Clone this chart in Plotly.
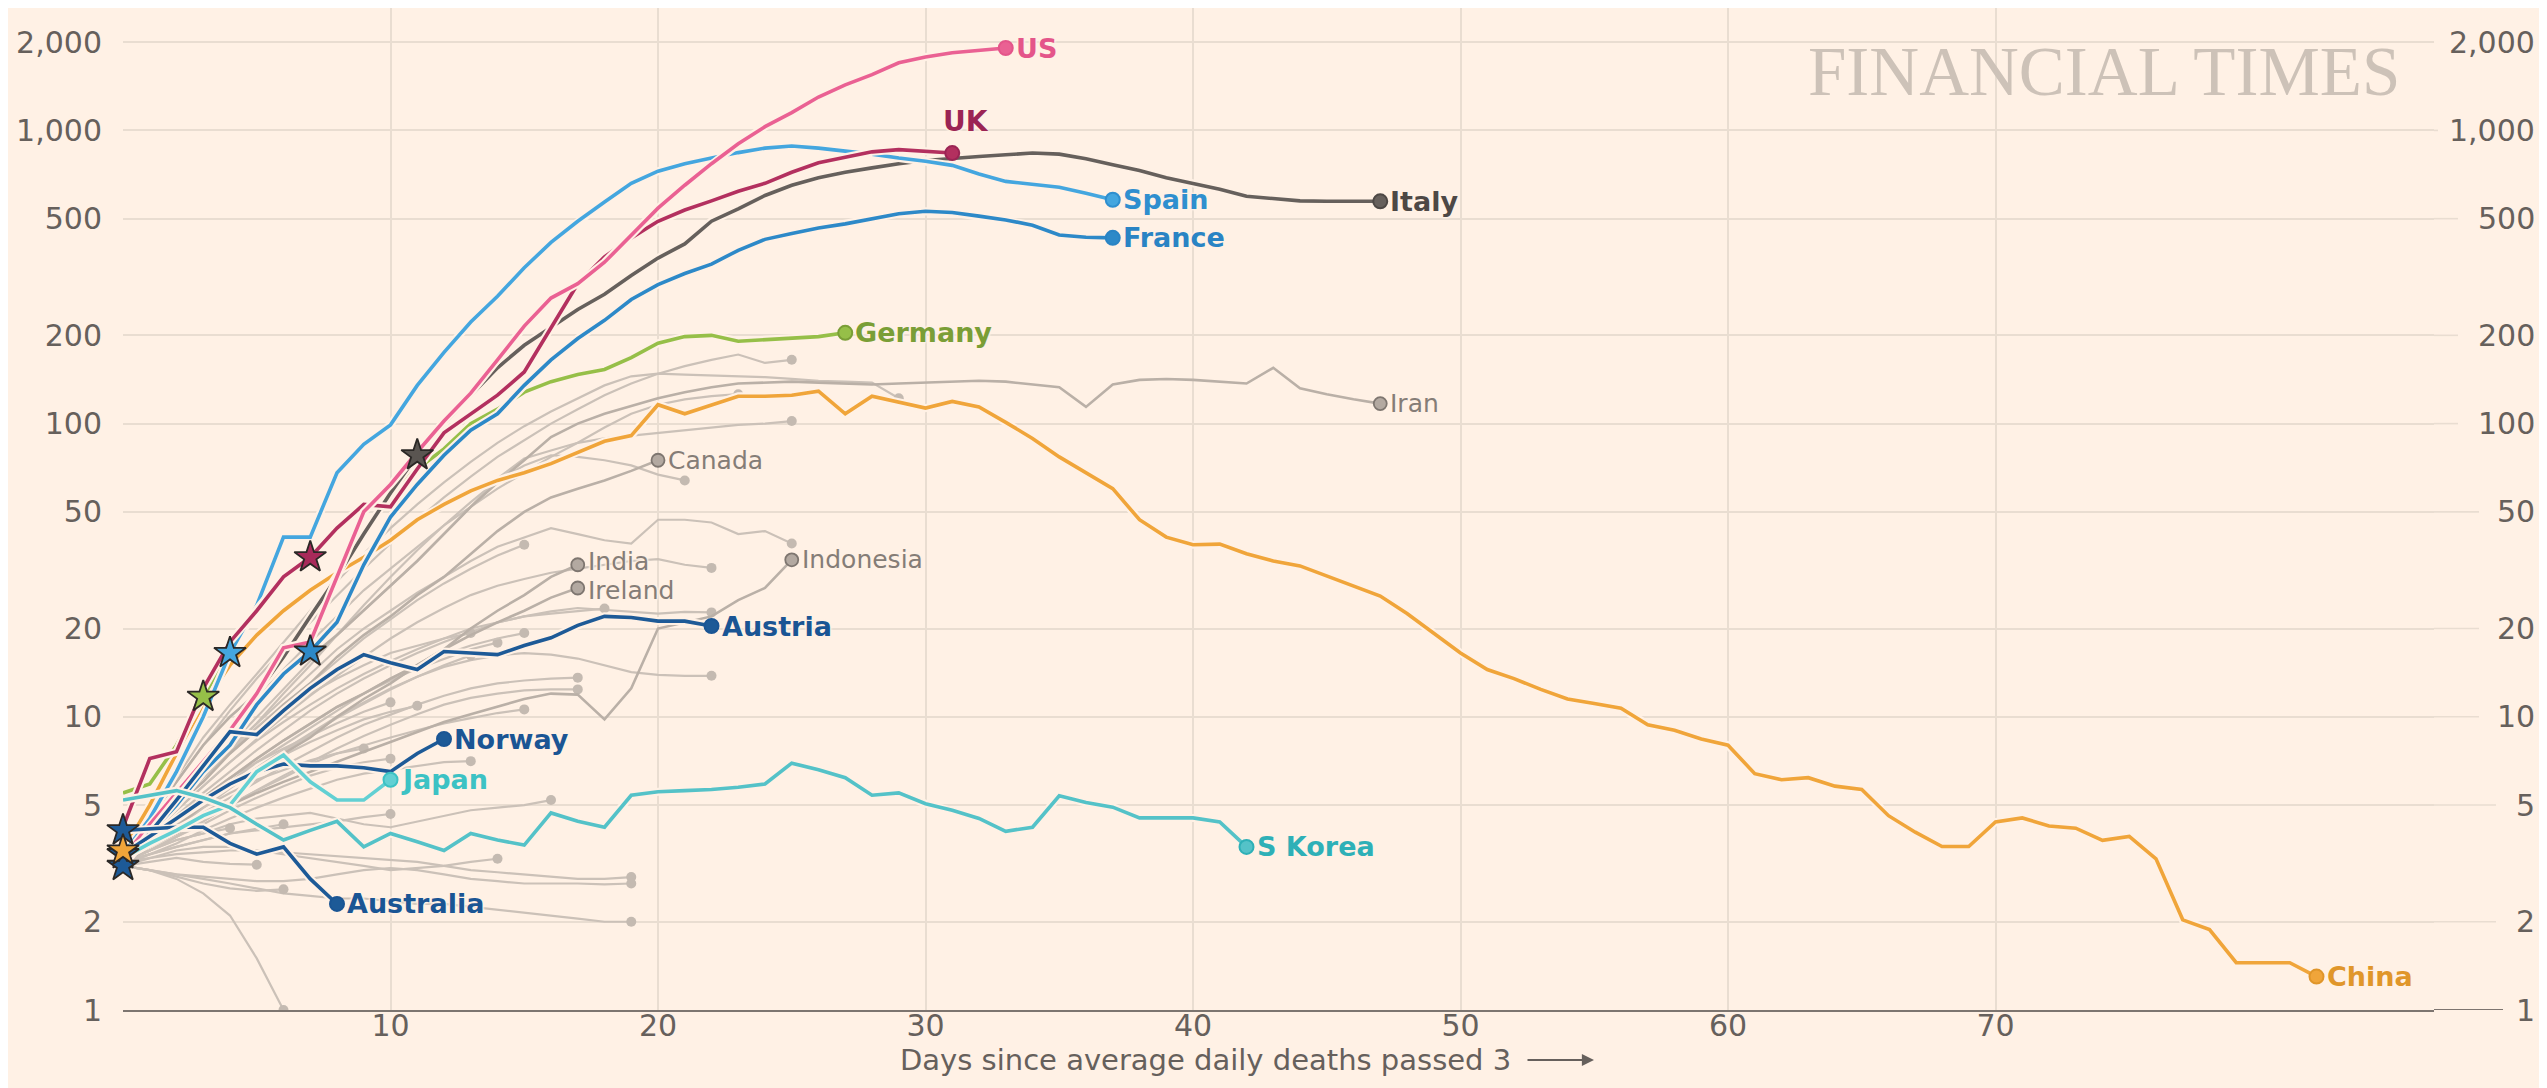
import math
import plotly.graph_objects as go

# ---------------- data (7-day avg daily deaths, index = days since avg passed 3) -------------
china = [3.5, 5.0, 7.5, 11, 15, 19, 23, 27, 31, 35, 40, 47, 53, 59, 64, 68, 73, 80, 87, 91,
         116, 108, 116, 124, 124, 125, 129, 108, 124, 118, 113, 119, 114, 101, 89, 77, 68, 60,
         47, 41, 38.6, 38.8, 36, 34, 32.7, 30.2, 28, 25.8, 22.5, 19.3, 16.5, 14.5, 13.5, 12.4,
         11.5, 11.1, 10.7, 9.4, 9.0, 8.4, 8.0, 6.4, 6.1, 6.2, 5.8, 5.65, 4.6, 4.04, 3.61, 3.61,
         4.38, 4.52, 4.24, 4.17, 3.79, 3.91, 3.28, 2.03, 1.88, 1.45, 1.45, 1.45, 1.30]
italy = [3.3, 4.2, 5.3, 7, 9, 12, 16, 22, 30, 42, 58, 78, 100, 125, 155, 185, 212, 245, 276,
         320, 367, 410, 490, 540, 600, 650, 690, 720, 745, 770, 790, 805, 815, 826, 837, 830,
         800, 764, 730, 690, 660, 630, 596, 585, 575, 573, 573, 573]
spain = [3.4, 4.5, 6.5, 10, 16.5, 24, 41, 41, 68, 85, 99, 135, 175, 222, 272, 340, 415, 490,
         570, 660, 726, 770, 805, 840, 870, 885, 870, 850, 830, 805, 785, 760, 710, 670, 655,
         640, 610, 580]
france = [3.2, 4.0, 5.0, 6.5, 8.0, 11, 14, 16.7, 21, 33, 48, 62, 78, 95, 108, 135, 165, 195,
          225, 265, 298, 325, 350, 390, 425, 445, 465, 480, 500, 520, 530, 525, 510, 495, 475,
          440, 432, 430]
uk = [4.2, 7.2, 7.6, 12.5, 18, 23, 30, 35, 44, 53, 52, 70, 93, 108, 125, 150, 212, 300, 370,
      430, 490, 535, 575, 620, 660, 720, 775, 810, 845, 860, 850, 837]
us = [3.3, 4.3, 5.5, 7, 9, 12, 17.2, 18, 30, 50, 62, 80, 102, 127, 165, 215, 268, 300, 355,
      440, 543, 650, 770, 900, 1030, 1150, 1300, 1430, 1550, 1700, 1780, 1840, 1880, 1910]
germany = [5.5, 5.9, 8, 11.7, 17, 23, 30, 36, 44, 52, 60, 70, 82, 100, 112, 128, 139, 147,
           153, 168, 188, 198, 200, 191, 193, 196, 198, 204]
austria = [3.1, 4.0, 5.2, 6.8, 8.9, 8.7, 10.5, 12.5, 14.5, 16.3, 15.3, 14.5, 16.7, 16.5, 16.3,
           17.5, 18.6, 20.5, 22, 21.8, 21.2, 21.2, 20.4]
norway = [3.4, 3.9, 4.5, 5.2, 5.9, 6.5, 6.9, 6.8, 6.8, 6.7, 6.5, 7.5, 8.4]
japan = [3.3, 3.7, 4.1, 4.6, 5.0, 6.5, 7.4, 6.0, 5.2, 5.2, 6.1]
australia = [4.1, 4.15, 4.2, 4.2, 3.7, 3.4, 3.6, 2.8, 2.3]
skorea = [5.2, 5.4, 5.6, 5.3, 4.9, 4.3, 3.8, 4.1, 4.4, 3.6, 4.0, 3.75, 3.5, 4.0, 3.8, 3.65,
          4.7, 4.4, 4.2, 5.4, 5.55, 5.6, 5.65, 5.75, 5.9, 6.95, 6.6, 6.2, 5.4, 5.5, 5.05, 4.8,
          4.5, 4.07, 4.2, 5.38, 5.1, 4.92, 4.52, 4.52, 4.52, 4.38, 3.6]
iran = [3.5, 4.5, 6, 8, 10, 12, 14, 16, 19, 23, 28, 34, 42, 52, 63, 75, 90, 100, 108, 115,
        122, 128, 133, 137, 138, 139, 138, 137, 136, 137, 138, 139, 140, 139, 136, 133, 114,
        136, 141, 142, 141, 139, 137, 155, 132, 126, 121, 117]
canada = [3.3, 4.0, 5.0, 6.0, 7.5, 9, 11, 13, 16, 19, 22, 26, 30, 36, 43, 50, 56, 60, 64, 69, 75]
india = [3.2, 3.6, 4.2, 5.0, 5.8, 6.6, 7.5, 8.5, 10, 11.5, 13, 15, 17, 20, 23, 26, 30, 33]
ireland = [3.2, 3.8, 4.5, 5.3, 6.2, 7.2, 8.3, 9.5, 10.8, 12, 13.5, 15, 17, 19, 21, 23, 25.5, 27.5]
indonesia = [3.2, 3.6, 4.0, 4.5, 5.0, 5.5, 6.0, 6.5, 7.0, 7.6, 8.2, 8.9, 9.6, 10.2, 10.8,
             11.5, 12.0, 11.9, 9.8, 12.5, 20, 21, 22, 25, 27.5, 34.3]

# unlabelled grey countries
grey_a = [3.3, 4.5, 6, 8, 10.5, 13.5, 17, 21, 26, 32, 39, 47, 56, 66, 77, 88, 100, 112, 125,
          137, 148, 157, 165, 172, 161, 165]
grey_b = [3.3, 4.5, 6.2, 8.5, 11, 14, 18, 23, 29, 36, 44, 53, 63, 74, 86, 98, 110, 122, 135,
          145, 148, 147, 146, 145, 144, 142, 140, 139, 138, 122]
grey_c = [3.2, 4.2, 5.5, 7, 9, 11.5, 14.5, 18, 22, 27, 32, 38, 45, 52, 60, 68, 77, 86, 97,
          108, 116, 121, 124, 126]
grey_d = [3.2, 4.0, 5.0, 6.3, 8, 10, 12.5, 15.5, 19, 23, 28, 34, 42, 52, 65, 76, 81, 86, 89,
          91, 93, 95, 97, 99, 100, 102]
grey_e = [3.2, 4.0, 5.0, 6.2, 7.7, 9.5, 12, 15, 19, 24, 30, 37, 45, 54, 64, 72, 78, 77, 75,
          72, 67, 64]
grey_f = [3.2, 4.0, 5.0, 6.2, 7.6, 9.2, 11, 13, 15.5, 18.5, 21.5, 25, 28.5, 32, 35.5, 38.6]
grey_g = [3.3, 4.0, 4.8, 5.8, 7, 8.4, 10, 11.8, 13.8, 16, 18.5, 21, 23.5, 26, 28, 29.5, 31,
          32, 33, 34, 34.5, 33, 32.2]
grey_h = [3.3, 4.0, 5.0, 6.3, 7.8, 9.5, 11.5, 14, 17, 20, 23, 26.5, 30, 34, 38, 41, 44, 42,
          40, 39, 47, 47, 46, 42, 43, 39]
grey_i = [3.2, 3.8, 4.6, 5.5, 6.5, 7.7, 9, 10.5, 12, 13.5, 15, 16.5, 18, 19.5, 21, 22, 22.9,
          23.5, 23.2, 22.8, 22.5, 22.8, 22.7]
grey_j = [3.2, 3.9, 4.8, 5.8, 7, 8.3, 9.6, 11, 12.5, 14, 15.5, 17, 18.5, 20, 21, 22, 22.5,
          23, 23.4]
grey_k = [3.2, 3.7, 4.3, 5.0, 5.8, 6.7, 7.7, 8.8, 10, 11.2, 12.5, 13.7, 14.8, 15.6, 16.2,
          16.5, 16.3, 15.8, 15, 14.2, 13.9, 13.8, 13.8]
grey_l = [3.2, 4.0, 5.0, 6.2, 7.5, 9, 10.5, 12, 13.5, 15, 16.5, 17.5, 18.5, 19.3]
grey_m = [3.2, 3.8, 4.5, 5.3, 6.2, 7.2, 8.3, 9.5, 10.8, 12, 13.3, 14.6, 15.8, 17, 17.9]
grey_n = [3.3, 3.9, 4.5, 5.2, 6.0, 7.0, 8.0, 9.2, 10.5, 12, 13.5, 15, 16.3, 17.5, 18.5, 19.3]
grey_o = [3.2, 3.6, 4.2, 4.9, 5.7, 6.6, 7.6, 8.7, 9.9, 11.1, 12.4, 13.7, 15, 16.2]
grey_p = [3.2, 3.6, 4.1, 4.7, 5.3, 6.0, 6.8, 7.6, 8.5, 9.4, 10.2, 11, 11.8, 12.5, 13, 13.3,
          13.5, 13.6]
grey_q = [3.2, 3.5, 3.9, 4.4, 5.0, 5.6, 6.3, 7.0, 7.8, 8.6, 9.4, 10.2, 11, 11.6, 12, 12.3,
          12.4, 12.4]
grey_r = [3.2, 3.8, 4.5, 5.3, 6.2, 7.0, 7.8, 8.6, 9.5, 10.4, 11.2]
grey_s = [3.2, 3.7, 4.3, 5.0, 5.8, 6.6, 7.4, 8.2, 9.0, 9.8, 10.4, 10.9]
grey_t = [3.2, 3.5, 3.9, 4.4, 5.0, 5.6, 6.2, 6.9, 7.5, 8.0, 8.5, 9.0, 9.5, 9.9, 10.3, 10.6]
grey_u = [3.2, 3.7, 4.3, 4.9, 5.5, 6.1, 6.6, 7.1, 7.5, 7.8]
grey_v = [3.2, 3.5, 3.9, 4.3, 4.8, 5.3, 5.8, 6.3, 6.7, 7.0, 7.2]
grey_w = [3.2, 3.4, 3.7, 4.1, 4.5, 4.9, 5.3, 5.7, 6.1, 6.4, 6.6, 6.8, 7.0, 7.06]
grey_x = [3.2, 3.5, 3.8, 4.0, 4.3, 4.5, 4.6, 4.7, 4.5, 4.3, 4.2, 4.4, 4.6, 4.8, 4.9, 5.0, 5.2]
grey_y = [3.2, 3.4, 3.6, 3.8, 4.0, 4.1, 4.2, 4.3, 4.4, 4.55, 4.66]
grey_z = [3.1, 3.4, 3.6, 3.8, 4.0, 4.15, 4.3]
grey_aa = [3.2, 3.5, 3.8, 4.0, 4.17]
grey_ab = [3.1, 3.3, 3.5, 3.6, 3.6, 3.5, 3.4, 3.3, 3.2, 3.1, 3.0, 3.05, 3.1, 3.2, 3.28]
grey_ac = [3.1, 3.2, 3.3, 3.2, 3.15, 3.13]
grey_ad = [3.2, 3.3, 3.4, 3.45, 3.5, 3.5, 3.45, 3.4, 3.35, 3.3, 3.25, 3.2, 3.1, 3.0, 2.95,
           2.9, 2.85, 2.8, 2.8, 2.84]
grey_ae = [3.1, 3.0, 2.9, 2.85, 2.8, 2.75, 2.75, 2.8, 2.9, 3.0, 3.05, 3.0, 2.9, 2.8, 2.75,
           2.7, 2.7, 2.7, 2.68, 2.7]
grey_af = [3.1, 3.0, 2.9, 2.8, 2.7, 2.6, 2.5, 2.45, 2.4, 2.4, 2.35, 2.3, 2.3, 2.25, 2.2,
           2.15, 2.1, 2.05, 2.0, 2.0]
grey_ag = [3.1, 3.0, 2.85, 2.7, 2.6, 2.55, 2.58]
grey_ah = [3.1, 3.0, 2.8, 2.5, 2.1, 1.5, 1.0]

# lockdown day (star marker) per country, as days since avg deaths passed 3
lockdown_day = {"Germany": 3, "Spain": 4, "UK": 7, "France": 7, "Italy": 11,
                "Australia": 0, "Norway": 0, "Austria": 0, "China": 0}

y_tick_vals = [1, 2, 5, 10, 20, 50, 100, 200, 500, 1000, 2000]
y_tick_text = ["1", "2", "5", "10", "20", "50", "100", "200", "500", "1,000", "2,000"]
x_tick_vals = [10, 20, 30, 40, 50, 60, 70]

# ---------------- layout geometry (pixels) ----------------
W, H = 2547, 1088
PL, PR, PT, PB = 115, 2426, 0, 1002          # plot area edges
PW, PH = PR - PL, PB - PT
DAY_PX = 26.75
DEC_PX = 293.2
# how far each horizontal gridline runs past the plot edge (to just before its label)
grid_ext_px = {1: 69, 2: 62, 5: 62, 10: 45, 20: 45, 50: 45, 100: 24, 200: 24, 500: 24,
               1000: 4, 2000: 0}

def px_x(px):
    return (px - PL) / PW

def px_y(py):
    return (PB - py) / PH

# ---------------- styling ----------------
BG = "#fff1e5"
GRID = "#e9ddd1"
TXT = "#66605c"
AXIS = "#7d7570"
FONT = "DejaVu Sans"
GREY_LINE = "#cbc1b8"
GREY_LABEL_LINE = "#bab0a7"
HALO = ("-1px -1px 2px #fff1e5, 1px 1px 2px #fff1e5, "
        "1px -1px 2px #fff1e5, -1px 1px 2px #fff1e5")

greys = [grey_a, grey_b, grey_c, grey_d, grey_e, grey_f, grey_g, grey_h, grey_i, grey_j,
         grey_k, grey_l, grey_m, grey_n, grey_o, grey_p, grey_q, grey_r, grey_s, grey_t,
         grey_u, grey_v, grey_w, grey_x, grey_y, grey_z, grey_aa, grey_ab, grey_ac, grey_ad,
         grey_ae, grey_af, grey_ag, grey_ah]

# name, data, label vertical nudge (px)
grey_labelled = [("Iran", iran, 0), ("Canada", canada, 0), ("India", india, 3),
                 ("Ireland", ireland, -3), ("Indonesia", indonesia, 0)]

# name, data, line colour, label colour, label placement
main = [
    ("China", china, "#f0a53a", "#e0962a", "right"),
    ("Germany", germany, "#96bf48", "#7a9e36", "right"),
    ("France", france, "#2d89c8", "#2a84c4", "right"),
    ("Italy", italy, "#66605c", "#4d4845", "right"),
    ("Spain", spain, "#44a6df", "#2f8fcf", "right"),
    ("UK", uk, "#b3305f", "#9b2454", "above"),
    ("US", us, "#ea6193", "#e4558a", "right"),
    ("Austria", austria, "#1d5a97", "#1a5594", "right"),
    ("Norway", norway, "#1d5a97", "#1a5594", "right"),
    ("Australia", australia, "#1d5a97", "#1a5594", "right"),
    ("Japan", japan, "#62d0d3", "#3cc2c4", "right"),
    ("S Korea", skorea, "#54c2c8", "#2eb0b7", "right"),
]

fig = go.Figure()

# unlabelled greys
for g in greys:
    xs = list(range(len(g)))
    fig.add_trace(go.Scatter(x=xs, y=g, mode="lines",
                             line=dict(color=GREY_LINE, width=2.2), hoverinfo="skip",
                             showlegend=False))
    fig.add_trace(go.Scatter(x=[xs[-1]], y=[g[-1]], mode="markers",
                             marker=dict(color="#c4bab1", size=10), hoverinfo="skip",
                             showlegend=False))

# labelled greys
for name, g, nudge in grey_labelled:
    xs = list(range(len(g)))
    fig.add_trace(go.Scatter(x=xs, y=g, mode="lines",
                             line=dict(color=GREY_LABEL_LINE, width=2.6), hoverinfo="skip",
                             showlegend=False))
    fig.add_trace(go.Scatter(x=[xs[-1]], y=[g[-1]], mode="markers",
                             marker=dict(color="#b3a9a1", size=13,
                                         line=dict(color="#7e7670", width=1.8)),
                             hoverinfo="skip", showlegend=False))
    fig.add_annotation(x=xs[-1], y=math.log10(g[-1]), xref="x", yref="y", text=name,
                       showarrow=False, xanchor="left", yanchor="middle", xshift=8,
                       yshift=nudge,
                       font=dict(family=FONT, size=25, color="#857d77", shadow=HALO))

# main coloured countries (with paper-coloured halo)
for name, d, lc, tc, place in main:
    xs = list(range(len(d)))
    fig.add_trace(go.Scatter(x=xs, y=d, mode="lines", line=dict(color=BG, width=8),
                             hoverinfo="skip", showlegend=False))
    fig.add_trace(go.Scatter(x=xs, y=d, mode="lines", line=dict(color=lc, width=3.6),
                             hoverinfo="skip", showlegend=False))

# end dots + labels
for name, d, lc, tc, place in main:
    xe = len(d) - 1
    fig.add_trace(go.Scatter(x=[xe], y=[d[-1]], mode="markers", cliponaxis=False,
                             marker=dict(color=lc, size=14, line=dict(color=tc, width=2)),
                             hoverinfo="skip", showlegend=False))
    if place == "above":
        fig.add_annotation(x=xe, y=math.log10(d[-1]), xref="x", yref="y", text=name,
                           showarrow=False, xanchor="center", yanchor="bottom",
                           xshift=14, yshift=13,
                           font=dict(family=FONT, size=28, color=tc, weight="bold",
                                     shadow=HALO))
    else:
        fig.add_annotation(x=xe, y=math.log10(d[-1]), xref="x", yref="y", text=name,
                           showarrow=False, xanchor="left", yanchor="middle", xshift=8,
                           font=dict(family=FONT, size=27, color=tc, weight="bold",
                                     shadow=HALO))

# lockdown stars
series_lookup = {n: (d, lc) for n, d, lc, tc, p in main}
star_fill = {"Italy": "#5a5551", "UK": "#a82a5a", "Australia": "#1d5a97",
             "Norway": "#1d5a97", "Austria": "#1d5a97"}
for name, day in lockdown_day.items():
    d, lc = series_lookup[name]
    fig.add_trace(go.Scatter(x=[day], y=[d[day]], mode="markers", cliponaxis=False,
                             marker=dict(symbol="star", size=24,
                                         color=star_fill.get(name, lc),
                                         line=dict(color="#2b2826", width=1.8)),
                             hoverinfo="skip", showlegend=False))

# horizontal gridlines run on to just before the right-hand labels
for v in y_tick_vals:
    ext = grid_ext_px[v]
    if ext <= 0:
        continue
    fig.add_shape(type="line", xref="paper", yref="y", x0=1, x1=1 + ext / PW,
                  y0=v, y1=v, layer="below",
                  line=dict(color=AXIS if v == 1 else GRID, width=2.2 if v == 1 else 1.6))

# right-hand y tick labels
for v, t in zip(y_tick_vals, y_tick_text):
    fig.add_annotation(x=1, y=math.log10(v), xref="paper", yref="y", text=t,
                       showarrow=False, xanchor="right", yanchor="middle", xshift=103,
                       font=dict(family=FONT, size=30, color=TXT))

# axis title + arrow
fig.add_annotation(x=px_x(1505), y=px_y(1052), xref="paper", yref="paper",
                   text="Days since average daily deaths passed 3", showarrow=False,
                   xanchor="right", yanchor="middle",
                   font=dict(family=FONT, size=29, color=TXT))
fig.add_annotation(x=px_x(1586), y=px_y(1052), xref="paper", yref="paper",
                   ax=-68, ay=0, axref="pixel", ayref="pixel", text="", showarrow=True,
                   arrowhead=2, arrowsize=1.1, arrowwidth=2.2, arrowcolor=TXT)

# watermark
fig.add_annotation(x=px_x(2394), y=px_y(64), xref="paper", yref="paper",
                   text="FINANCIAL TIMES", showarrow=False, xanchor="right",
                   yanchor="middle",
                   font=dict(family="Liberation Serif", size=69, color="#cdc2b8"))

fig.update_layout(
    width=W, height=H,
    paper_bgcolor=BG, plot_bgcolor=BG,
    margin=dict(l=PL, r=W - PR, t=PT, b=H - PB, pad=0),
    showlegend=False,
    xaxis=dict(range=[0, PW / DAY_PX], tickvals=x_tick_vals, showgrid=True, gridcolor=GRID,
               gridwidth=1.6, zeroline=False, showline=True, linecolor=AXIS,
               linewidth=2.2, ticks="", ticklabelstandoff=-12, automargin=False,
               tickfont=dict(family=FONT, size=30, color=TXT)),
    yaxis=dict(type="log", range=[0, PH / DEC_PX], tickvals=y_tick_vals,
               ticktext=y_tick_text, showgrid=True, gridcolor=GRID, gridwidth=1.6,
               zeroline=False, showline=False, ticks="", ticklabelstandoff=20,
               automargin=False, tickfont=dict(family=FONT, size=30, color=TXT)),
)

fig.write_html("out.html")
